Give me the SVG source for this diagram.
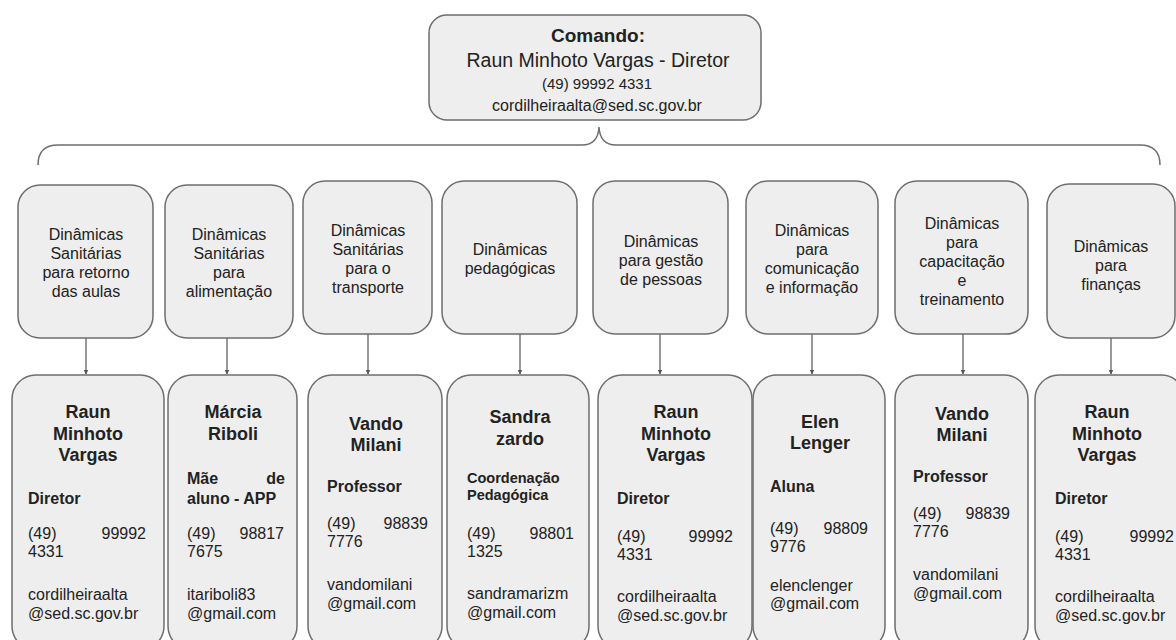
<svg xmlns="http://www.w3.org/2000/svg" width="1176" height="640" viewBox="0 0 1176 640">
<defs>
<marker id="ah" viewBox="0 0 10 10" refX="9" refY="5" markerWidth="5" markerHeight="5" orient="auto" markerUnits="userSpaceOnUse">
<path d="M0,0 L10,5 L0,10 z" fill="#555"/>
</marker>
</defs>
<style>
.box{fill:#eeeeee;stroke:#6e6e6e;stroke-width:1.5}
text{font-family:"Liberation Sans",Arial,sans-serif;fill:#222}
.t{font-size:16px;text-anchor:middle}
.n{font-size:18px;font-weight:bold;text-anchor:middle}
.r{font-size:16px;font-weight:bold}
.d{font-size:16px}
.e{font-size:16px;text-anchor:end}
.con{fill:none;stroke:#6e6e6e;stroke-width:1.5}
.arr{stroke:#555;stroke-width:1.2;marker-end:url(#ah)}
</style>
<rect width="1176" height="640" fill="#ffffff"/>

<g id="comando">
<rect class="box" x="429" y="15" width="332" height="105" rx="18"/>
<text x="598" y="42" style="font-size:19px;font-weight:bold;text-anchor:middle">Comando:</text>
<text x="598" y="67" style="font-size:19.5px;text-anchor:middle">Raun Minhoto Vargas - Diretor</text>
<text x="597" y="89" style="font-size:15px;text-anchor:middle">(49) 99992 4331</text>
<text x="597" y="111" style="font-size:16px;text-anchor:middle">cordilheiraalta@sed.sc.gov.br</text>
</g>

<g id="connectors">
<path class="con" d="M38,165 Q38,145 58,145 L582,145 Q598,145 599,127 Q600,145 616,145 L1140,145 Q1160,145 1160,165"/>
<line class="arr" x1="86" y1="338" x2="86" y2="374"/>
<line class="arr" x1="227" y1="338" x2="227" y2="374"/>
<line class="arr" x1="368" y1="334" x2="368" y2="374"/>
<line class="arr" x1="520" y1="334" x2="520" y2="374"/>
<line class="arr" x1="660" y1="334" x2="660" y2="374"/>
<line class="arr" x1="812" y1="334" x2="812" y2="374"/>
<line class="arr" x1="963" y1="334" x2="963" y2="374"/>
<line class="arr" x1="1111" y1="338" x2="1111" y2="374"/>
</g>

<g id="d1">
<rect class="box" x="18" y="185" width="135" height="153" rx="22"/>
<text class="t" x="86" y="240">Dinâmicas</text>
<text class="t" x="86" y="259">Sanitárias</text>
<text class="t" x="86" y="278">para retorno</text>
<text class="t" x="86" y="297">das aulas</text>
</g>
<g id="d2">
<rect class="box" x="165" y="185" width="128" height="153" rx="22"/>
<text class="t" x="229" y="240">Dinâmicas</text>
<text class="t" x="229" y="259">Sanitárias</text>
<text class="t" x="229" y="278">para</text>
<text class="t" x="229" y="297">alimentação</text>
</g>
<g id="d3">
<rect class="box" x="303" y="181" width="129" height="153" rx="22"/>
<text class="t" x="368" y="236">Dinâmicas</text>
<text class="t" x="368" y="255">Sanitárias</text>
<text class="t" x="368" y="274">para o</text>
<text class="t" x="368" y="293">transporte</text>
</g>
<g id="d4">
<rect class="box" x="442" y="181" width="135" height="153" rx="22"/>
<text class="t" x="510" y="255">Dinâmicas</text>
<text class="t" x="510" y="274">pedagógicas</text>
</g>
<g id="d5">
<rect class="box" x="593" y="181" width="135" height="153" rx="22"/>
<text class="t" x="661" y="247">Dinâmicas</text>
<text class="t" x="661" y="266">para gestão</text>
<text class="t" x="661" y="285">de pessoas</text>
</g>
<g id="d6">
<rect class="box" x="746" y="181" width="132" height="153" rx="22"/>
<text class="t" x="812" y="236">Dinâmicas</text>
<text class="t" x="812" y="255">para</text>
<text class="t" x="812" y="274">comunicação</text>
<text class="t" x="812" y="293">e informação</text>
</g>
<g id="d7">
<rect class="box" x="895" y="181" width="133" height="153" rx="22"/>
<text class="t" x="962" y="229">Dinâmicas</text>
<text class="t" x="962" y="248">para</text>
<text class="t" x="962" y="267">capacitação</text>
<text class="t" x="962" y="286">e</text>
<text class="t" x="962" y="305">treinamento</text>
</g>
<g id="d8">
<rect class="box" x="1047" y="184" width="128" height="154" rx="22"/>
<text class="t" x="1111" y="252">Dinâmicas</text>
<text class="t" x="1111" y="271">para</text>
<text class="t" x="1111" y="290">finanças</text>
</g>

<g id="p1">
<rect class="box" x="12" y="375" width="152" height="275" rx="24"/>
<text class="n" x="88" y="418">Raun</text>
<text class="n" x="88" y="440">Minhoto</text>
<text class="n" x="88" y="461">Vargas</text>
<text class="r" x="28" y="504">Diretor</text>
<text class="d" x="28" y="539">(49)</text>
<text class="e" x="146" y="539">99992</text>
<text class="d" x="28" y="557">4331</text>
<text class="d" x="28" y="600">cordilheiraalta</text>
<text class="d" x="28" y="619">@sed.sc.gov.br</text>
</g>
<g id="p2">
<rect class="box" x="168" y="375" width="129" height="275" rx="24"/>
<text class="n" x="233" y="418">Márcia</text>
<text class="n" x="233" y="440">Riboli</text>
<text class="r" x="187" y="484">Mãe</text>
<text class="r" x="285" y="484" text-anchor="end">de</text>
<text class="r" x="187" y="504">aluno - APP</text>
<text class="d" x="187" y="539">(49)</text>
<text class="e" x="284" y="539">98817</text>
<text class="d" x="187" y="557">7675</text>
<text class="d" x="187" y="600">itariboli83</text>
<text class="d" x="187" y="619">@gmail.com</text>
</g>
<g id="p3">
<rect class="box" x="308" y="375" width="134" height="275" rx="24"/>
<text class="n" x="376" y="430">Vando</text>
<text class="n" x="376" y="451">Milani</text>
<text class="r" x="327" y="492">Professor</text>
<text class="d" x="327" y="529">(49)</text>
<text class="e" x="428" y="529">98839</text>
<text class="d" x="327" y="547">7776</text>
<text class="d" x="327" y="590">vandomilani</text>
<text class="d" x="327" y="609">@gmail.com</text>
</g>
<g id="p4">
<rect class="box" x="447" y="375" width="142" height="275" rx="24"/>
<text class="n" x="520" y="423">Sandra</text>
<text class="n" x="520" y="445">zardo</text>
<text class="r" x="467" y="483" style="font-size:14.5px">Coordenação</text>
<text class="r" x="467" y="500" style="font-size:14.5px">Pedagógica</text>
<text class="d" x="467" y="539">(49)</text>
<text class="e" x="574" y="539">98801</text>
<text class="d" x="467" y="557">1325</text>
<text class="d" x="467" y="599">sandramarizm</text>
<text class="d" x="467" y="618">@gmail.com</text>
</g>
<g id="p5">
<rect class="box" x="598" y="375" width="154" height="275" rx="24"/>
<text class="n" x="676" y="418">Raun</text>
<text class="n" x="676" y="440">Minhoto</text>
<text class="n" x="676" y="461">Vargas</text>
<text class="r" x="617" y="504">Diretor</text>
<text class="d" x="617" y="542">(49)</text>
<text class="e" x="733" y="542">99992</text>
<text class="d" x="617" y="560">4331</text>
<text class="d" x="617" y="602">cordilheiraalta</text>
<text class="d" x="617" y="621">@sed.sc.gov.br</text>
</g>
<g id="p6">
<rect class="box" x="753" y="375" width="132" height="275" rx="24"/>
<text class="n" x="820" y="428">Elen</text>
<text class="n" x="820" y="449">Lenger</text>
<text class="r" x="770" y="492">Aluna</text>
<text class="d" x="770" y="534">(49)</text>
<text class="e" x="868" y="534">98809</text>
<text class="d" x="770" y="552">9776</text>
<text class="d" x="770" y="591">elenclenger</text>
<text class="d" x="770" y="609">@gmail.com</text>
</g>
<g id="p7">
<rect class="box" x="895" y="375" width="133" height="275" rx="24"/>
<text class="n" x="962" y="420">Vando</text>
<text class="n" x="962" y="441">Milani</text>
<text class="r" x="913" y="482">Professor</text>
<text class="d" x="913" y="519">(49)</text>
<text class="e" x="1010" y="519">98839</text>
<text class="d" x="913" y="537">7776</text>
<text class="d" x="913" y="580">vandomilani</text>
<text class="d" x="913" y="599">@gmail.com</text>
</g>
<g id="p8">
<rect class="box" x="1035" y="375" width="150" height="275" rx="24"/>
<text class="n" x="1107" y="418">Raun</text>
<text class="n" x="1107" y="440">Minhoto</text>
<text class="n" x="1107" y="461">Vargas</text>
<text class="r" x="1055" y="504">Diretor</text>
<text class="d" x="1055" y="542">(49)</text>
<text class="e" x="1174" y="542">99992</text>
<text class="d" x="1055" y="560">4331</text>
<text class="d" x="1055" y="602">cordilheiraalta</text>
<text class="d" x="1055" y="621">@sed.sc.gov.br</text>
</g>
</svg>
